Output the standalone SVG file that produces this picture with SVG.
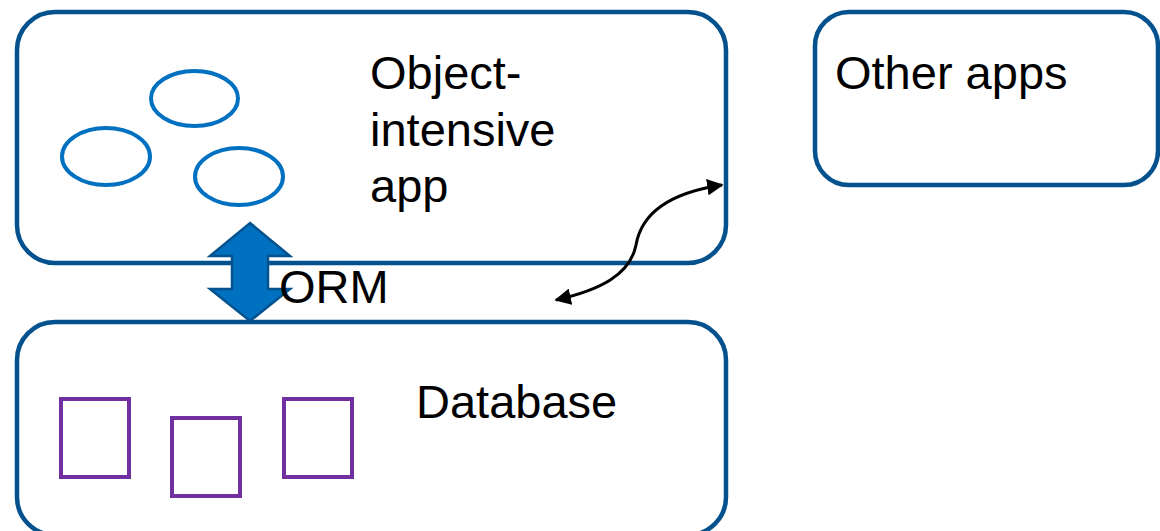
<svg xmlns="http://www.w3.org/2000/svg" width="1160" height="531" viewBox="0 0 1160 531">
  <defs>
    <style>
      .box { fill: #ffffff; stroke: #03528E; stroke-width: 4.5; }
      .obj { fill: none; stroke: #0070C0; stroke-width: 4; }
      .tbl { fill: none; stroke: #7030A0; stroke-width: 4; }
      .lbl { font-family: "Liberation Sans", Arial, sans-serif; font-size: 47px; fill: #000000; }
      .link { fill: none; stroke: #000000; stroke-width: 3; }
    </style>
    <marker id="tip" viewBox="0 0 10 10" refX="9" refY="5" markerWidth="5.5" markerHeight="5.5" orient="auto-start-reverse" markerUnits="strokeWidth">
      <path d="M0,0 L10,5 L0,10 Z" fill="#000000"/>
    </marker>
  </defs>

  <g id="app">
    <rect class="box" x="17" y="12" width="709" height="251" rx="38" ry="38"/>
    <ellipse class="obj" cx="194.5" cy="98.5" rx="43.5" ry="27.5"/>
    <ellipse class="obj" cx="106" cy="156.5" rx="44" ry="28.5"/>
    <ellipse class="obj" cx="239" cy="176.5" rx="44" ry="28.5"/>
    <text class="lbl" x="370" y="89">Object-</text>
    <text class="lbl" x="370" y="146">intensive</text>
    <text class="lbl" x="370" y="202">app</text>
  </g>

  <g id="other-apps">
    <rect class="box" x="815" y="12" width="343" height="173" rx="34" ry="34"/>
    <text class="lbl" x="835" y="89">Other apps</text>
  </g>

  <g id="database">
    <rect class="box" x="17" y="322" width="709" height="213" rx="38" ry="38"/>
    <rect class="tbl" x="61" y="399" width="68" height="78"/>
    <rect class="tbl" x="172" y="418" width="68" height="78"/>
    <rect class="tbl" x="284" y="399" width="68" height="78"/>
    <text class="lbl" x="416" y="418">Database</text>
  </g>

  <g id="connectors">
    <!-- ORM double-headed block arrow -->
    <path d="M250,223 L290,256 L268,256 L268,289 L290,289 L250,321 L210,289 L232,289 L232,256 L210,256 Z"
          fill="#0070C0" stroke="#03528E" stroke-width="2.5" stroke-linejoin="miter"/>
    <text class="lbl" x="279" y="303">ORM</text>
    <!-- curved link between app and the database -->
    <path class="link" d="M556,300 C600,290 630,275 636,245 C642,210 675,192 722,185"
          marker-start="url(#tip)" marker-end="url(#tip)"/>
  </g>
</svg>
